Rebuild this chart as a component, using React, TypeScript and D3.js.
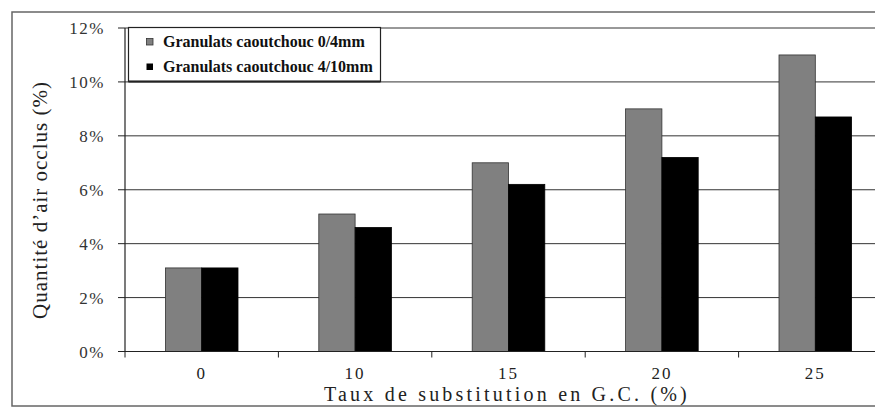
import React from "react";
import * as d3 from "d3";

const categories = ["0", "10", "15", "20", "25"];
const series1Name = "Granulats caoutchouc 0/4mm";
const series2Name = "Granulats caoutchouc 4/10mm";
const series1 = [3.1, 5.1, 7.0, 9.0, 11.0];
const series2 = [3.1, 4.6, 6.2, 7.2, 8.7];
const yTicks = [0, 2, 4, 6, 8, 10, 12];
const yTitle = "Quantité d\u2019air occlus (%)";
const xTitle = "Taux de substitution en G.C. (%)";

const W = 875;
const H = 409;
const left = 125;
const right = 892;
const top = 28;
const bottom = 351.5;

export default function App() {
  const x = d3.scaleBand<string>().domain(categories).range([left, right]).paddingInner(0).paddingOuter(0);
  const y = d3.scaleLinear().domain([0, 12]).range([bottom, top]);
  const groupW = 72.6;
  const inner = d3.scaleBand<number>().domain([0, 1]).range([0, groupW]);
  const serif = "'Liberation Serif', 'Times New Roman', serif";
  const boundaries = d3.range(categories.length + 1).map((i) => left + i * x.bandwidth());

  return (
    <svg width={W} height={H} style={{ position: "absolute", left: 0, top: 0, background: "#fff" }}>
      <rect x={0} y={0} width={W} height={H} fill="#fff" />
      {/* outer frame */}
      <rect x={12} y={12} width={W + 20} height={394} fill="none" stroke="#666" strokeWidth={1.5} />
      {/* gridlines */}
      {yTicks.map((t) => (
        <line key={t} x1={left} x2={right} y1={y(t)} y2={y(t)} stroke="#333" strokeWidth={1} />
      ))}
      <line x1={right} x2={right} y1={top} y2={bottom} stroke="#333" />
      {/* bars */}
      {categories.map((c, i) => {
        const gx = x(c)! + x.bandwidth() / 2 - groupW / 2;
        return (
          <g key={c}>
            <rect x={gx + inner(0)!} y={y(series1[i])} width={inner.bandwidth()} height={bottom - y(series1[i])} fill="#808080" stroke="#333" strokeWidth={0.8} />
            <rect x={gx + inner(1)!} y={y(series2[i])} width={inner.bandwidth()} height={bottom - y(series2[i])} fill="#000" stroke="#000" strokeWidth={0.8} />
          </g>
        );
      })}
      {/* axes */}
      <line x1={left} x2={left} y1={top} y2={bottom} stroke="#222" strokeWidth={1.2} />
      <line x1={left} x2={right} y1={bottom} y2={bottom} stroke="#222" strokeWidth={1.2} />
      {yTicks.map((t) => (
        <g key={"yt" + t}>
          <line x1={118} x2={left} y1={y(t)} y2={y(t)} stroke="#222" />
          <text x={105} y={y(t) + 6} textAnchor="end" fontFamily={serif} fontSize={17} letterSpacing={1.5} fill="#333">
            {t + "%"}
          </text>
        </g>
      ))}
      {boundaries.map((b, i) => (
        <line key={"xt" + i} x1={b} x2={b} y1={bottom} y2={bottom + 6} stroke="#222" />
      ))}
      {categories.map((c) => (
        <text key={"xl" + c} x={x(c)! + x.bandwidth() / 2} y={379} textAnchor="middle" fontFamily={serif} fontSize={17} letterSpacing={2} fill="#222">
          {c}
        </text>
      ))}
      <text x={507} y={401} textAnchor="middle" fontFamily={serif} fontSize={20} letterSpacing={3.2} fill="#222">
        {xTitle}
      </text>
      <text transform={`translate(47,${200}) rotate(-90)`} textAnchor="middle" fontFamily={serif} fontSize={21} letterSpacing={1} fill="#222">
        {yTitle}
      </text>
      {/* legend */}
      <rect x={128.5} y={27.5} width={252} height={54} fill="#fff" stroke="#222" strokeWidth={1.2} />
      <line x1={128.5} x2={380.5} y1={81.5} y2={81.5} stroke="#222" strokeWidth={2} />
      <rect x={146.5} y={38.5} width={6.5} height={6.5} fill="#808080" stroke="#333" strokeWidth={0.8} />
      <text x={163} y={47} fontFamily={serif} fontWeight="bold" fontSize={16} fill="#111">
        {series1Name}
      </text>
      <rect x={146.5} y={63.5} width={6.5} height={6.5} fill="#000" />
      <text x={163} y={72} fontFamily={serif} fontWeight="bold" fontSize={16} fill="#111">
        {series2Name}
      </text>
    </svg>
  );
}
